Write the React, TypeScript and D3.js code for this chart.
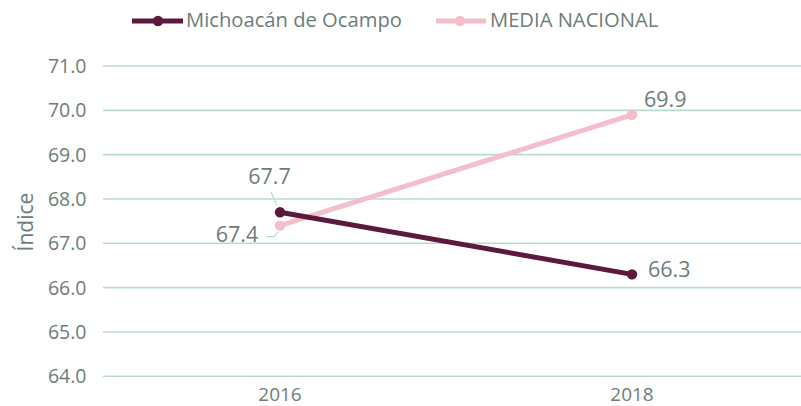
import React from "react";
import * as d3 from "d3";

const years = ["2016", "2018"];
const michoacan = [67.7, 66.3];
const media = [67.4, 69.9];
const yTicks = [64, 65, 66, 67, 68, 69, 70, 71];
const seriesNames = ["Michoacán de Ocampo", "MEDIA NACIONAL"];

const W = 801, H = 406;
const FONT = "'Open Sans', sans-serif";
const TXT = "#6c7d78";
const GRID = "#b8dbd1";
const C1 = "#5b1a3d";
const C2 = "#f2bfcb";

export default function App() {
  const x = d3.scaleBand<string>().domain(years).range([104, 808]);
  const cx = (d: string) => (x(d) as number) + x.bandwidth() / 2;
  const y = d3.scaleLinear().domain([64, 71]).range([376.3, 66]);
  const line = d3.line<number>().x((_, i) => cx(years[i])).y((v) => y(v));
  const x0 = cx(years[0]);
  const x1 = cx(years[1]);

  return (
    <svg width={W} height={H} style={{ position: "absolute", left: 0, top: 0, fontFamily: FONT }}>
      {yTicks.map((t) => (
        <g key={t}>
          <line x1={103} x2={801} y1={y(t)} y2={y(t)} stroke={GRID} strokeWidth={1.6} />
          <text x={86.5} y={y(t)} dy="0.36em" textAnchor="end" fontSize={19.5} fill={TXT}>
            {t.toFixed(1)}
          </text>
        </g>
      ))}
      {years.map((yr) => (
        <text key={yr} x={cx(yr)} y={401} textAnchor="middle" fontSize={19} fill={TXT}>
          {yr}
        </text>
      ))}
      <text transform={`translate(33,222) rotate(-90)`} textAnchor="middle" fontSize={21} fill={TXT}>
        Índice
      </text>

      {/* leader lines */}
      <polyline points={`${x0 - 9},${y(michoacan[0]) - 20} ${x0 - 3},${y(michoacan[0]) - 7}`} fill="none" stroke={GRID} strokeWidth={1.3} />
      <polyline points={`${x0 - 13.5},${y(media[0]) + 11} ${x0 - 6},${y(media[0]) + 11} ${x0 - 1.5},${y(media[0]) + 6}`} fill="none" stroke={GRID} strokeWidth={1.3} />

      <path d={line(media) || ""} fill="none" stroke={C2} strokeWidth={5} />
      <path d={line(michoacan) || ""} fill="none" stroke={C1} strokeWidth={5} />
      {media.map((v, i) => (
        <circle key={"m" + i} cx={cx(years[i])} cy={y(v)} r={5.2} fill={C2} />
      ))}
      {michoacan.map((v, i) => (
        <circle key={"c" + i} cx={cx(years[i])} cy={y(v)} r={5.2} fill={C1} />
      ))}

      <text x={x0 - 10.5} y={184} textAnchor="middle" fontSize={21.5} fill={TXT}>
        {michoacan[0].toFixed(1)}
      </text>
      <text x={x0 - 43} y={242} textAnchor="middle" fontSize={21.5} fill={TXT}>
        {media[0].toFixed(1)}
      </text>
      <text x={x1 + 12} y={107} textAnchor="start" fontSize={21.5} fill={TXT}>
        {media[1].toFixed(1)}
      </text>
      <text x={x1 + 16} y={277} textAnchor="start" fontSize={21.5} fill={TXT}>
        {michoacan[1].toFixed(1)}
      </text>

      {/* legend */}
      <line x1={132} x2={183} y1={21} y2={21} stroke={C1} strokeWidth={5} />
      <circle cx={158} cy={21} r={5.2} fill={C1} />
      <text x={186} y={26.5} fontSize={20.2} fill={TXT}>{seriesNames[0]}</text>
      <line x1={436} x2={486} y1={21} y2={21} stroke={C2} strokeWidth={5} />
      <circle cx={460} cy={21} r={5.2} fill={C2} />
      <text x={490} y={26.5} fontSize={20.2} fill={TXT}>{seriesNames[1]}</text>
    </svg>
  );
}
